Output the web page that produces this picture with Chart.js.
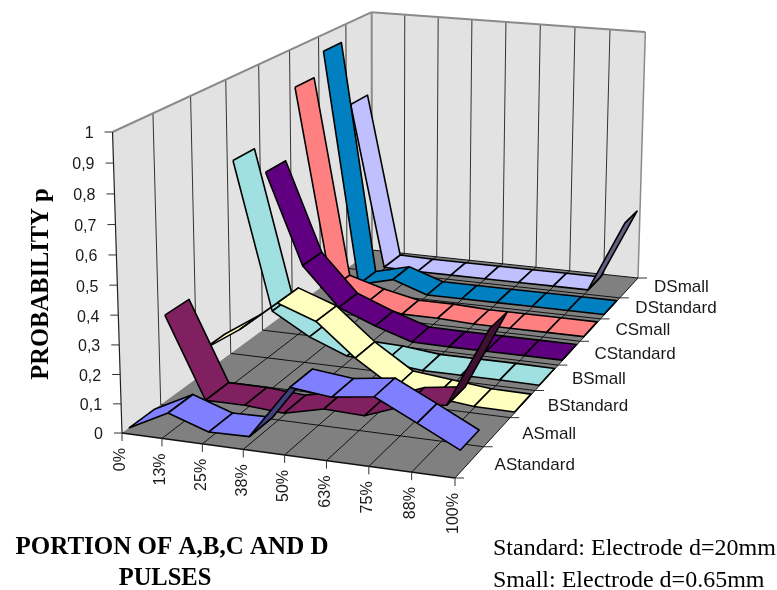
<!DOCTYPE html>
<html>
<head>
<meta charset="utf-8">
<script src="https://cdn.jsdelivr.net/npm/chart.js@4"></script>
<style>
  html, body { margin: 0; background: #fff; }
  #chart { display: block; }
</style>
</head>
<body>
<canvas id="chart" width="777" height="590"></canvas>
<script>
const categories = ['0%', '13%', '25%', '38%', '50%', '63%', '75%', '88%', '100%']
const seriesNames = ['AStandard', 'ASmall', 'BStandard', 'BSmall', 'CStandard', 'CSmall', 'DStandard', 'DSmall']
const valueTicks = ['0', '0,1', '0,2', '0,3', '0,4', '0,5', '0,6', '0,7', '0,8', '0,9', '1']

const aStandard = [0, 0.07, 0.023, 0.026, 0.21, 0.195, 0.214, 0.145, 0.074]
const aSmall = [0.30, 0.017, 0.017, 0.007, 0.04, 0.034, 0.087, 0.107, 0.383]
const bStandard = [0.087, 0.178, 0.29, 0.24, 0.125, 0.035, 0.02, 0.005, 0.003]
const bSmall = [0.70, 0.16, 0.08, 0.025, 0.02, 0.005, 0.005, 0.005, 0.003]
const cStandard = [0.59, 0.25, 0.105, 0.05, 0.005, 0.003, 0.003, 0.003, 0.003]
const cSmall = [0.85, 0.08, 0.04, 0.01, 0.01, 0.003, 0.003, 0.003, 0.003]
const dStandard = [0.935, 0.015, 0.05, 0.003, 0.003, 0.003, 0.003, 0.003, 0.003]
const dSmall = [0.667, 0.006, 0.003, 0.003, 0.003, 0.003, 0.003, 0.003, 0.29]

const seriesValues = [aStandard, aSmall, bStandard, bSmall, cStandard, cSmall, dStandard, dSmall]
const topColors = ['#8080FF', '#802060', '#FFFFC0', '#A0E0E0', '#600080', '#FF8080', '#0080C0', '#C0C0FF']
const undersideColors = ['#404080', '#401030', '#808060', '#507070', '#300040', '#804040', '#004060', '#606080']

// screen corners of the plot box
const floorFrontLeft = [122, 433]
const floorFrontRight = [455, 478]
const floorBackRight = [638, 278]
const floorBackLeft = [372, 250]
const topFrontLeft = [110, 132]
const topBackLeft = [372, 15]
const topBackRight = [647, 32]

// ribbon covers the middle of its row, the rest is depth gap
const ribbonGap = 0.17

// perspective camera solved from the box corners
function buildCamera() {
  const [x0, y0] = floorFrontLeft
  const [x1, y1] = floorFrontRight
  const [x2, y2] = floorBackRight
  const [x3, y3] = floorBackLeft
  const dx1 = x1 - x2, dx2 = x3 - x2, sx = x0 - x1 + x2 - x3
  const dy1 = y1 - y2, dy2 = y3 - y2, sy = y0 - y1 + y2 - y3
  const den = dx1 * dy2 - dx2 * dy1
  const g = (sx * dy2 - dx2 * sy) / den
  const h = (dx1 * sy - sx * dy1) / den
  const a = x1 - x0 + g * x1, b = x3 - x0 + h * x3, c = x0
  const d = y1 - y0 + g * y1, e = y3 - y0 + h * y3, f = y0

  const rest = (pt, u, v, i) => {
    const w = g * u + h * v + 1
    const n = i === 0 ? a * u + b * v + c : d * u + e * v + f
    return pt[i] * w - n
  }
  const c0 = rest(topFrontLeft, 0, 0, 1)
  const c2 = rest(topBackRight, 1, 1, 1)
  const r = (c0 - c2) / (topBackRight[1] - topFrontLeft[1])
  const q = c0 + topFrontLeft[1] * r
  const p = ((rest(topFrontLeft, 0, 0, 0) + topFrontLeft[0] * r)
    + (rest(topBackLeft, 0, 1, 0) + topBackLeft[0] * r)
    + (rest(topBackRight, 1, 1, 0) + topBackRight[0] * r)) / 3

  // u along categories, v along series, z is the probability
  return (u, v, z) => {
    const w = g * u + h * v + 1 + r * z
    return { x: (a * u + b * v + c + p * z) / w, y: (d * u + e * v + f + q * z) / w }
  }
}
const project = buildCamera()

const nCats = categories.length - 1
const nRows = seriesNames.length

const datasets = []
function addPolygon(points, fillColor, edgeColor, width) {
  datasets.push({
    data: [...points, points[0]],
    showLine: true,
    fill: 'shape',
    backgroundColor: fillColor,
    borderColor: edgeColor,
    borderWidth: width,
    borderJoinStyle: 'round',
    borderDash: [4000, 1],
    pointRadius: 0,
    clip: false
  })
}
function addLine(from, to, color, width) {
  datasets.push({
    data: [from, to],
    showLine: true,
    fill: false,
    borderColor: color,
    borderWidth: width,
    borderDash: [4000, 1],
    pointRadius: 0,
    clip: false
  })
}

// walls and floor
addPolygon([project(0, 0, 0), project(0, 1, 0), project(0, 1, 1), project(0, 0, 1)], '#E2E2E2', 'rgba(0,0,0,0)', 0)
addPolygon([project(0, 1, 0), project(1, 1, 0), project(1, 1, 1), project(0, 1, 1)], '#E2E2E2', 'rgba(0,0,0,0)', 0)
addPolygon([project(0, 0, 0), project(1, 0, 0), project(1, 1, 0), project(0, 1, 0)], '#808080', 'rgba(0,0,0,0)', 0)

// gridlines
for (let i = 1; i <= nCats; i++) {
  const u = i / nCats
  addLine(project(u, 1, 0), project(u, 1, 1), i === nCats ? '#8A8A8A' : '#333', i === nCats ? 1.5 : 1)
  addLine(project(u, 0, 0), project(u, 1, 0), '#111', 1)
}
for (let j = 1; j <= nRows; j++) {
  const v = j / nRows
  if (j < nRows) addLine(project(0, v, 0), project(0, v, 1), '#333', 1)
  addLine(project(0, v, 0), project(1, v, 0), '#111', 1)
}
addLine(project(0, 1, 0), project(0, 1, 1), '#8A8A8A', 2)
addLine(project(0, 0, 1), project(0, 1, 1), '#8A8A8A', 2)
addLine(project(0, 1, 1), project(1, 1, 1), '#8A8A8A', 2)
addLine(project(0, 0, 0), project(0, 0, 1), '#222', 1.2)
addLine(project(0, 0, 0), project(1, 0, 0), '#111', 1.3)

// axis ticks
valueTicks.forEach((_, i) => {
  const pt = project(0, 0, i / (valueTicks.length - 1))
  addLine(pt, { x: pt.x - 8, y: pt.y }, '#333', 1)
})
categories.forEach((_, i) => {
  const pt = project(i / nCats, 0, 0)
  addLine(pt, { x: pt.x, y: pt.y + 8 }, '#333', 1)
})
for (let j = 0; j <= nRows; j++) {
  const pt = project(1, j / nRows, 0)
  addLine(pt, { x: pt.x + 9, y: pt.y }, '#333', 1)
}

// ribbons, back row first so the nearer ones cover them
for (let j = nRows - 1; j >= 0; j--) {
  const vals = seriesValues[j]
  const vNear = (j + ribbonGap) / nRows
  const vFar = (j + 1 - ribbonGap) / nRows
  for (let i = 0; i < nCats; i++) {
    const u0 = i / nCats
    const u1 = (i + 1) / nCats
    const quad = [
      project(u0, vNear, vals[i]),
      project(u1, vNear, vals[i + 1]),
      project(u1, vFar, vals[i + 1]),
      project(u0, vFar, vals[i])
    ]
    let area = 0
    quad.forEach((pt, k) => {
      const nx = quad[(k + 1) % 4]
      area += pt.x * nx.y - nx.x * pt.y
    })
    // a ribbon seen from below shows its darker face
    addPolygon(quad, area < 0 ? topColors[j] : undersideColors[j], '#000', 1.6)
  }
}

datasets.forEach((ds, i) => { ds.order = datasets.length - i })

const axisText = {
  id: 'axisText',
  afterDraw(chart) {
    const ctx = chart.ctx
    ctx.save()
    ctx.fillStyle = '#1a1a1a'
    ctx.font = '16px "Liberation Sans"'
    ctx.textAlign = 'right'
    ctx.textBaseline = 'middle'
    valueTicks.forEach((label, i) => {
      const pt = project(0, 0, i / (valueTicks.length - 1))
      ctx.fillText(label, pt.x - 19, pt.y + 2)
    })
    categories.forEach((label, i) => {
      const pt = project(i / nCats, 0, 0)
      ctx.save()
      ctx.translate(pt.x - 1, pt.y + 15)
      ctx.rotate(-Math.PI / 2)
      ctx.fillText(label, 0, 0)
      ctx.restore()
    })
    ctx.font = '17px "Liberation Sans"'
    ctx.textAlign = 'left'
    seriesNames.forEach((label, j) => {
      const pt = project(1, (j + 0.5) / nRows, 0)
      ctx.fillText(label, pt.x + 25, pt.y + 3 - j * 0.5)
    })

    ctx.fillStyle = '#000'
    ctx.textAlign = 'center'
    ctx.textBaseline = 'alphabetic'
    ctx.font = 'bold 24.5px "Liberation Serif"'
    ctx.save()
    ctx.translate(48, 284)
    ctx.rotate(-Math.PI / 2)
    ctx.fillText('PROBABILITY p', 0, 0)
    ctx.restore()
    ctx.fillText('PULSES', 165, 585)
    ctx.font = 'bold 25px "Liberation Serif"'
    ctx.fillText('PORTION OF A,B,C AND D', 172, 554)
    ctx.textAlign = 'left'
    ctx.textBaseline = 'middle'
    ctx.font = '24px "Liberation Serif"'
    ctx.fillText('Standard: Electrode d=20mm', 493, 549)
    ctx.fillText('Small: Electrode d=0.65mm', 493, 581)
    ctx.restore()
  }
}

new Chart(document.getElementById('chart'), {
  type: 'scatter',
  data: { datasets },
  options: {
    responsive: false,
    animation: false,
    layout: { padding: 0 },
    plugins: { legend: { display: false }, tooltip: { enabled: false } },
    scales: {
      x: { type: 'linear', min: 0, max: 777, display: false },
      y: { type: 'linear', min: 0, max: 590, reverse: true, display: false }
    }
  },
  plugins: [axisText]
})
</script>
</body>
</html>
